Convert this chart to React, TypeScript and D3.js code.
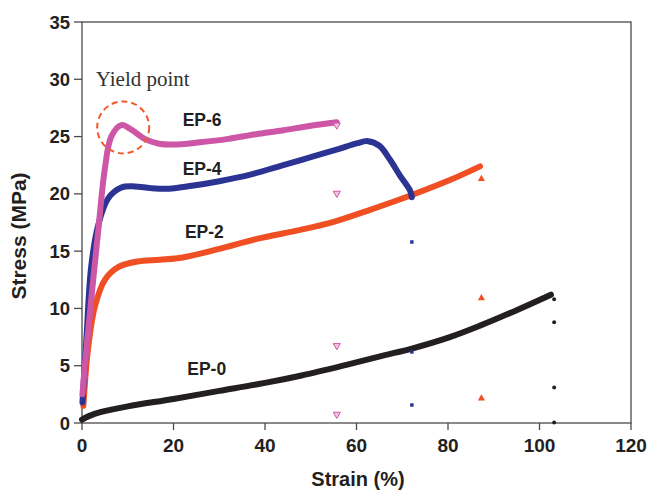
import React from "react";
import * as d3 from "d3";

// curves: [strain %, stress MPa]
const ep0 = [[0, 0.3], [1.5, 0.6], [4, 0.95], [10, 1.45], [20, 2.1], [30, 2.8], [40, 3.5], [48, 4.15], [58, 5.1], [66, 5.9], [72.1, 6.5], [80.4, 7.5], [87, 8.5], [95, 9.85], [102.5, 11.2]];
const ep2 = [[0.3, 1.5], [1.3, 6.4], [2.8, 10.15], [5.0, 12.5], [7.9, 13.6], [12.2, 14.1], [17, 14.25], [22, 14.45], [30, 15.2], [38, 16.05], [47.7, 16.85], [55, 17.55], [62.2, 18.5], [72.1, 19.9], [80.4, 21.2], [87, 22.4]];
const ep4 = [[0.1, 1.8], [1.0, 7.6], [2.0, 13.6], [3.5, 17.2], [5.7, 19.6], [8.6, 20.55], [11.5, 20.65], [15, 20.5], [19, 20.45], [24, 20.7], [30, 21.1], [37, 21.7], [44, 22.5], [50, 23.2], [56, 23.9], [60, 24.4], [62.5, 24.6], [65, 24.2], [67.3, 23.0], [69.5, 21.6], [71.7, 20.3], [72.1, 19.7]];
const ep6 = [[0.1, 2.5], [0.6, 4.9], [2.0, 10.7], [3.5, 16.6], [5.0, 22.2], [6.4, 25.0], [8.6, 26.0], [10.8, 25.6], [13.7, 24.8], [16.6, 24.4], [20, 24.3], [25.8, 24.5], [32, 24.8], [38, 25.2], [44, 25.55], [50, 25.95], [55.7, 26.25]];

// stray break markers
const ep0Marks = [[103.2, 10.8], [103.2, 8.8], [103.2, 3.1], [103.2, 0.05]];
const ep2Marks = [[87.3, 21.3], [87.3, 10.9], [87.3, 2.15]];
const ep4Marks = [[72.1, 19.7], [72.1, 15.8], [72.1, 6.2], [72.1, 1.57]];
const ep6Marks = [[55.7, 26.0], [55.7, 20.05], [55.7, 6.75], [55.7, 0.76]];

const labels = [
  { text: "EP-6", x: 22, y: 25.9 },
  { text: "EP-4", x: 22, y: 21.65 },
  { text: "EP-2", x: 22.5, y: 16.15 },
  { text: "EP-0", x: 23, y: 4.2 },
];

const xTicks = [0, 20, 40, 60, 80, 100, 120];
const yTicks = [0, 5, 10, 15, 20, 25, 30, 35];

const colors = { ep0: "#231f20", ep2: "#f04e23", ep4: "#2b3393", ep6: "#cd57a6" };

export default function App() {
  const width = 650, height = 490;
  const x = d3.scaleLinear().domain([0, 120]).range([82, 631]);
  const y = d3.scaleLinear().domain([0, 35]).range([423, 22]);
  const line = d3.line<number[]>().x(d => x(d[0])).y(d => y(d[1])).curve(d3.curveCatmullRom.alpha(0.5));
  const axisColor = "#4a4a4a";
  const font = "'Liberation Sans', Arial, sans-serif";

  const series = [
    { data: ep0, color: colors.ep0 },
    { data: ep2, color: colors.ep2 },
    { data: ep4, color: colors.ep4 },
    { data: ep6, color: colors.ep6 },
  ];

  const tri = d3.symbol().type(d3.symbolTriangle).size(22)();
  const sq = d3.symbol().type(d3.symbolSquare).size(12)();
  const circ = d3.symbol().type(d3.symbolCircle).size(12)();

  return (
    <svg width={width} height={height} style={{ position: "absolute", left: 0, top: 0, background: "#fff" }}>
      {/* frame */}
      <rect x={x(0)} y={y(35)} width={x(120) - x(0)} height={y(0) - y(35)} fill="none" stroke={axisColor} strokeWidth={1.3} />
      {yTicks.map(t => (
        <g key={"y" + t}>
          <line x1={x(0) - 8} x2={x(0)} y1={y(t)} y2={y(t)} stroke={axisColor} strokeWidth={1.3} />
          <text x={70} y={y(t) + 6.5} textAnchor="end" fontFamily={font} fontWeight="bold" fontSize={18.5} fill="#231f20">{t}</text>
        </g>
      ))}
      {xTicks.map(t => (
        <g key={"x" + t}>
          <line x1={x(t)} x2={x(t)} y1={y(0)} y2={y(0) + 7} stroke={axisColor} strokeWidth={1.3} />
          <text x={x(t)} y={452} textAnchor="middle" fontFamily={font} fontWeight="bold" fontSize={19} fill="#231f20">{t}</text>
        </g>
      ))}
      <text x={358} y={486} textAnchor="middle" fontFamily={font} fontWeight="bold" fontSize={20} fill="#231f20">Strain (%)</text>
      <text transform="translate(26,236) rotate(-90)" textAnchor="middle" fontFamily={font} fontWeight="bold" fontSize={21} fill="#231f20">Stress (MPa)</text>

      {series.map((s, i) => (
        <path key={i} d={line(s.data) || ""} fill="none" stroke={s.color} strokeWidth={6} strokeLinecap="round" strokeLinejoin="round" />
      ))}

      {ep6Marks.map((d, i) => (
        <path key={"m6" + i} d={tri} transform={`translate(${x(d[0])},${y(d[1])}) rotate(180)`} fill="#f2c6e2" stroke={colors.ep6} strokeWidth={1} />
      ))}
      {ep4Marks.map((d, i) => (
        <path key={"m4" + i} d={sq} transform={`translate(${x(d[0])},${y(d[1])})`} fill={colors.ep4} />
      ))}
      {ep2Marks.map((d, i) => (
        <path key={"m2" + i} d={tri} transform={`translate(${x(d[0])},${y(d[1])})`} fill={colors.ep2} />
      ))}
      {ep0Marks.map((d, i) => (
        <path key={"m0" + i} d={circ} transform={`translate(${x(d[0])},${y(d[1])})`} fill={colors.ep0} />
      ))}

      {labels.map(l => (
        <text key={l.text} x={x(l.x)} y={y(l.y)} fontFamily={font} fontWeight="bold" fontSize={17.5} fill="#231f20">{l.text}</text>
      ))}

      <circle cx={x(9)} cy={y(25.8)} r={26} fill="none" stroke="#f05a28" strokeWidth={2} strokeDasharray="6,4" />
      <text x={x(3)} y={y(29.4)} fontFamily="'Liberation Serif', 'Times New Roman', serif" fontSize={21} fill="#333">Yield point</text>
    </svg>
  );
}
